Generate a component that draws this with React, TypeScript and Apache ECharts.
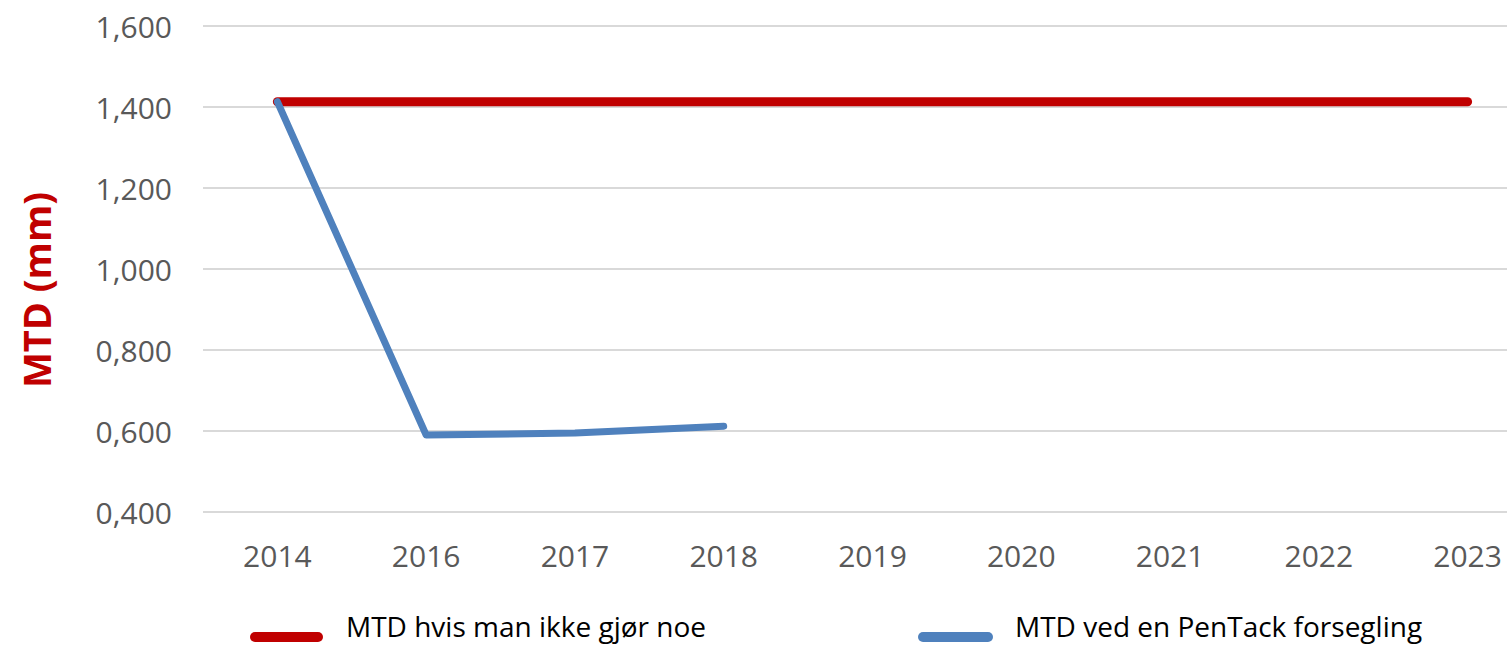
import React, { useEffect, useRef } from "react";
import * as echarts from "echarts";

const years = ["2014", "2016", "2017", "2018", "2019", "2020", "2021", "2022", "2023"];
const doNothing = [1.413, 1.413, 1.413, 1.413, 1.413, 1.413, 1.413, 1.413, 1.413];
const penTack = [1.413, 0.59, 0.595, 0.612, null, null, null, null, null];
const seriesNames = ["MTD hvis man ikke gjør noe", "MTD ved en PenTack forsegling"];
const seriesColors = ["#C00000", "#4F81BD"];
const yTitle = "MTD (mm)";

export default function App() {
  const ref = useRef<HTMLDivElement>(null);
  useEffect(() => {
    if (!ref.current) return;
    const chart = echarts.init(ref.current, undefined, { renderer: "svg" });
    const font = "'Open Sans', 'Liberation Sans', sans-serif";
    chart.setOption({
      animation: false,
      backgroundColor: "#ffffff",
      grid: { left: 203, top: 26, right: 18, height: 486, containLabel: false },
      xAxis: {
        type: "category",
        data: years,
        boundaryGap: true,
        axisLine: { show: false },
        axisTick: { show: false },
        axisLabel: { color: "#595959", fontSize: 30, fontFamily: font, margin: 28 },
        splitLine: { show: false },
      },
      yAxis: {
        type: "value",
        min: 0.4,
        max: 1.6,
        interval: 0.2,
        axisLine: { show: false },
        axisTick: { show: false },
        axisLabel: {
          color: "#595959",
          fontSize: 30,
          fontFamily: font,
          margin: 31,
          formatter: (v: number) => v.toFixed(3).replace(".", ","),
        },
        splitLine: { show: true, lineStyle: { color: "#d9d9d9", width: 2 } },
      },
      graphic: [
        {
          type: "text",
          x: 36,
          y: 290,
          rotation: Math.PI / 2,
          style: {
            text: yTitle,
            fill: "#C00000",
            font: `bold 38px ${font}`,
            align: "center",
            verticalAlign: "middle",
          },
        },
        {
          type: "rect",
          shape: { x: 250, y: 632, width: 73, height: 10, r: 5 },
          style: { fill: seriesColors[0] },
        },
        {
          type: "text",
          x: 346,
          y: 626,
          style: { text: seriesNames[0], fill: "#000", font: `28px ${font}`, verticalAlign: "middle" },
        },
        {
          type: "rect",
          shape: { x: 918, y: 632, width: 75, height: 10, r: 5 },
          style: { fill: seriesColors[1] },
        },
        {
          type: "text",
          x: 1015,
          y: 626,
          style: { text: seriesNames[1], fill: "#000", font: `28px ${font}`, verticalAlign: "middle" },
        },
      ],
      series: [
        {
          name: seriesNames[0],
          type: "line",
          data: doNothing,
          symbol: "none",
          color: seriesColors[0],
          lineStyle: { color: seriesColors[0], width: 9, cap: "round", join: "round" },
        },
        {
          name: seriesNames[1],
          type: "line",
          data: penTack,
          symbol: "none",
          color: seriesColors[1],
          lineStyle: { color: seriesColors[1], width: 7, cap: "round", join: "round" },
        },
      ],
    });
    return () => chart.dispose();
  }, []);
  return (
    <div
      style={{ position: "fixed", left: 0, top: 0, width: 1507, height: 645, overflow: "hidden", background: "#fff" }}
    >
      <div ref={ref} style={{ width: 1560, height: 645 }} />
    </div>
  );
}
